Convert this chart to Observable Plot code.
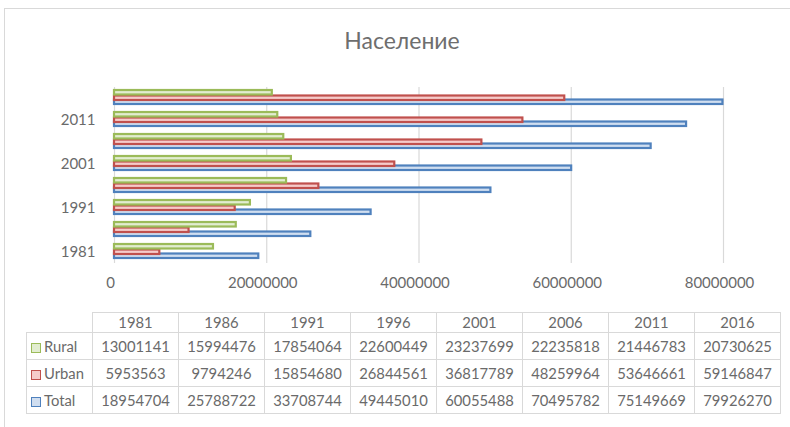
<!DOCTYPE html>
<html><head><meta charset="utf-8">
<script src="https://cdn.jsdelivr.net/npm/d3@7"></script>
<script src="https://cdn.jsdelivr.net/npm/@observablehq/plot@0.6"></script>
<style>
body{margin:0;background:#fff;font-family:Lato,"Open Sans",sans-serif;}
#wrap{position:relative;width:790px;height:427px;overflow:hidden;background:#fff;}
#frame{position:absolute;left:4px;top:8px;right:-2px;bottom:-2px;border-top:1px solid #d9d9d9;border-left:1px solid #d9d9d9;}
#title{position:absolute;left:7px;width:790px;top:26px;text-align:center;font-size:23px;color:#6e6e6e;}
#chart{position:absolute;left:0;top:0;}
table{position:absolute;left:26px;top:312px;width:754px;border-collapse:collapse;font-size:14.8px;color:#6a6a6a;table-layout:fixed;}
td{border:1px solid #d9d9d9;text-align:center;padding:0;white-space:nowrap;overflow:hidden;}
td.lab{text-align:left;padding-left:4px;}
td.blank{border-top:none;border-left:none;}
tr.head td{height:19px;line-height:19px;}
tr.row td{height:26px;line-height:26px;}
.key{display:inline-block;width:8px;height:8px;border:1px solid;margin-right:3px;vertical-align:-1px;}
</style></head>
<body>
<div id="wrap">
  <div id="frame"></div>
  <div id="chart"></div>
  <div id="title">Население</div>
  <table id="tbl"></table>
</div>
<script>
const years = [1981, 1986, 1991, 1996, 2001, 2006, 2011, 2016];
const rural = [13001141, 15994476, 17854064, 22600449, 23237699, 22235818, 21446783, 20730625];
const urban = [5953563, 9794246, 15854680, 26844561, 36817789, 48259964, 53646661, 59146847];
const total = [18954704, 25788722, 33708744, 49445010, 60055488, 70495782, 75149669, 79926270];
const seriesNames = ["Rural", "Urban", "Total"];
const xTicks = [0, 20000000, 40000000, 60000000, 80000000];
const yTicks = [1981, 1991, 2001, 2011];

const strokes = {Rural: "#9bbb59", Urban: "#c0504d", Total: "#4f81bd"};
const fills = {Rural: "#e2edd0", Urban: "#f6cbca", Total: "#d0def0"};

const seriesVals = {Rural: rural, Urban: urban, Total: total};
const rows = name => years.map((y, i) => ({year: y, value: seriesVals[name][i]}));

const insets = {Rural: [3, 14.5], Urban: [8.5, 9], Total: [12.5, 5]};
const barFor = name => Plot.barX(rows(name), {
  x: "value", y: "year",
  fill: fills[name], stroke: strokes[name], strokeWidth: 2.2,
  insetTop: insets[name][0], insetBottom: insets[name][1]
});

const chart = Plot.plot({
  width: 790, height: 300,
  marginLeft: 114, marginRight: 67, marginTop: 87, marginBottom: 37,
  style: {fontFamily: "Lato, 'Open Sans', sans-serif", fontSize: "15px", color: "#6a6a6a", background: "transparent"},
  x: {domain: [0, 80000000]},
  y: {domain: years.slice().reverse(), padding: 0},
  marks: [
    Plot.gridX(xTicks, {stroke: "#d9d9d9", strokeOpacity: 1, strokeWidth: 1.2}),
    barFor("Total"),
    barFor("Urban"),
    barFor("Rural"),
    Plot.axisX({ticks: xTicks, tickSize: 0, tickPadding: 14, tickFormat: d3.format("d"), dx: -4, label: null, fill: "#6a6a6a"}),
    Plot.axisY({ticks: yTicks, tickSize: 0, tickPadding: 19, tickFormat: d => String(d), label: null, fill: "#6a6a6a"})
  ]
});
document.getElementById("chart").appendChild(chart);

// data table
const tbl = document.getElementById("tbl");
let html = '<colgroup><col style="width:66px">' + years.map(() => '<col style="width:86px">').join("") + '</colgroup>';
html += '<tr class="head"><td class="lab blank"></td>' + years.map(y => `<td>${y}</td>`).join("") + '</tr>';
for (const name of seriesNames) {
  html += `<tr class="row"><td class="lab"><span class="key" style="border-color:${strokes[name]};background:${fills[name]}"></span>${name}</td>` +
    seriesVals[name].map(v => `<td>${v}</td>`).join("") + '</tr>';
}
tbl.innerHTML = html;
</script>
</body></html>
